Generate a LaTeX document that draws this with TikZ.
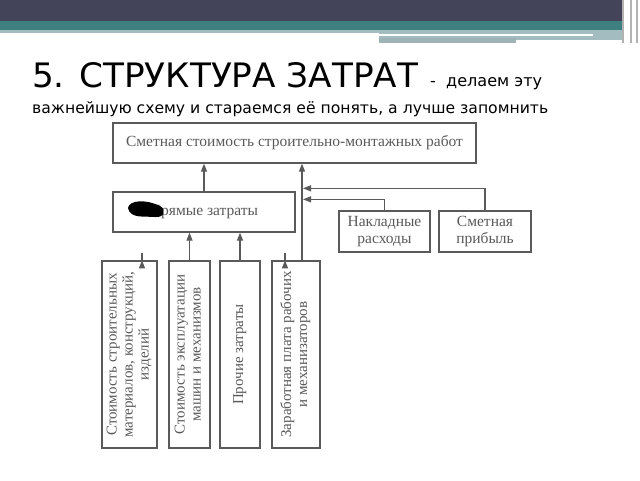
\documentclass[tikz,border=0pt]{standalone}
\usepackage{fontspec}
\setmainfont{Liberation Serif}
\newfontfamily\titlefont{DejaVu Sans}
\usetikzlibrary{arrows.meta}
\usetikzlibrary{calc}
\definecolor{barslate}{HTML}{43435A}
\definecolor{barteal}{HTML}{3E8080}
\definecolor{barlight}{HTML}{A3BCC0}
\definecolor{inkgray}{HTML}{5A5A5A}
\tikzset{
    box/.style={draw=inkgray, line width=1.3pt, fill=white, text=inkgray, inner sep=2pt, align=center},
    arr/.style={draw=inkgray, line width=1.3pt, -{Triangle[length=8pt,width=6pt]}},
    lin/.style={draw=inkgray, line width=1.3pt}
}

\begin{document}
\begin{tikzpicture}[x=1pt,y=-1pt]

    % Rahmen
    \useasboundingbox (0,0) rectangle (640,480);
    \fill[white] (0,0) rectangle (640,480);

    % Kopfleiste
    \fill[barslate] (0,0) rectangle (622,21);
    \fill[barteal] (0,21) rectangle (622,30);
    \fill[barlight] (0,30) rectangle (379,33);
    \fill[barlight] (379,30) rectangle (622,40);
    \fill[white] (379,34) rectangle (593,36);
    \fill[barlight!85!gray] (379,38) rectangle (516,43);
    \foreach \x in {622,630,636} {
        \fill[gray!60] (\x,0) rectangle (\x+2,43);
    }

    % Ueberschrift
    \node[anchor=base west, inner sep=0pt] (titel) at (32,87)
        {\resizebox{386pt}{25pt}{\titlefont 5. СТРУКТУРА ЗАТРАТ}};
    \node[anchor=base west, inner sep=0pt] (titelzusatz) at (430,86)
        {\resizebox{112pt}{!}{\titlefont -\ \ делаем эту}};
    \node[anchor=base west, inner sep=0pt] (untertitel) at (32,113)
        {\resizebox{516pt}{!}{\titlefont важнейшую схему и стараемся её понять, а лучше запомнить}};

    % Kaesten
    \node[box, minimum width=363pt, minimum height=40pt, font=\fontsize{15.5}{17}\selectfont] (smr) at (294.5,143)
        {Сметная стоимость строительно-монтажных работ};
    \node[box, minimum width=182pt, minimum height=40pt, font=\fontsize{15.5}{17}\selectfont] (pryamye) at (204,212)
        {Прямые затраты};
    \node[box, minimum width=91pt, minimum height=41pt, font=\fontsize{15.5}{17}\selectfont] (nakl) at (384.5,231.5)
        {Накладные\\расходы};
    \node[box, minimum width=92pt, minimum height=41pt, font=\fontsize{15.5}{17}\selectfont] (pribyl) at (485,231.5)
        {Сметная\\прибыль};

    % Kaesten unten (Text gedreht)
    \foreach \n/\cx/\w/\txt in {
        mat/129.5/55/{Стоимость строительных\\материалов, конструкций,\\изделий},
        mash/189.5/41/{Стоимость эксплуатации\\машин и механизмов},
        proch/240/40/{Прочие затраты},
        zarp/296/48/{Заработная плата рабочих\\и механизаторов}} {
        \node[box, minimum width=\w pt, minimum height=187pt, inner sep=0pt, font=\fontsize{15}{16}\selectfont] (\n) at (\cx,354.5)
            {\rotatebox{90}{\begin{tabular}{@{}c@{}}\txt\end{tabular}}};
    }

    % Klecks ueber dem Buchstaben
    \fill[black] (128,208) .. controls (129,200) and (146,199) .. (160,206)
        .. controls (167,210) and (164,218) .. (155,217)
        .. controls (145,216) and (130,219) .. (128,208) -- cycle;

    % Pfeile
    \draw[arr] (pryamye.north) -- (pryamye.north |- smr.south);
    \draw[arr] ($(mat.north)+(12.5,0)$) -- ($(mat.north)+(12.5,0)$ |- pryamye.south);
    \draw[arr] (mash.north) -- (mash.north |- pryamye.south);
    \draw[arr] (proch.north) -- (proch.north |- pryamye.south);
    \draw[arr] ($(zarp.north)+(-11,0)$) -- ($(zarp.north)+(-11,0)$ |- pryamye.south);
    \coordinate (stamm) at ($(zarp.north)+(6,0)$);
    \draw[arr] (stamm) -- (stamm |- smr.south);
    \draw[arr] (pribyl.north) |- ($(stamm)+(1,-72)$);
    \draw[arr] (nakl.north) |- ($(stamm)+(1,-61)$);

\end{tikzpicture}
\end{document}
